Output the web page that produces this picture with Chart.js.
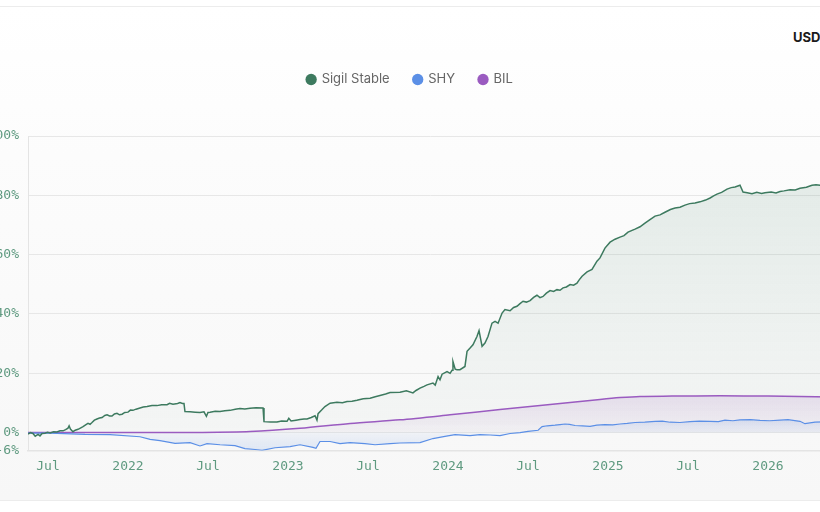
<!doctype html>
<html>
<head>
	<title>Sigil Stable vs SHY vs BIL</title>
	<script src="https://cdn.jsdelivr.net/npm/chart.js@4.4.1/dist/chart.umd.min.js"></script>
	<style>
		html, body {
			margin: 0;
			width: 820px;
			height: 512px;
			overflow: hidden;
			background: #fff;
		}
		body {
			position: relative;
			font-family: Inter, "Noto Sans", sans-serif;
		}
		#card {
			position: absolute;
			left: -20px;
			right: -20px;
			top: 6px;
			height: 493px;
			border-top: 1px solid #ececec;
			border-bottom: 1px solid #ececec;
			background: linear-gradient(#ffffff 0%, #fcfcfc 30%, #f7f7f7 100%);
		}
		#ccy {
			position: absolute;
			left: 793px;
			top: 29px;
			font: 700 13px Inter, sans-serif;
			color: #1b1b1b;
		}
		#canvas {
			position: absolute;
			left: -12px;
			top: 7px;
		}
	</style>
</head>

<body>
	<div id="card"></div>
	<div id="ccy">USD</div>
	<canvas id="canvas" width="844" height="493"></canvas>

	<script>
		// x values are decimal years, y values are cumulative return in %
		var sigilT = [2021.375, 2021.39, 2021.406, 2021.42, 2021.438, 2021.45, 2021.463, 2021.481, 2021.497, 2021.513,
			2021.535, 2021.556, 2021.575, 2021.594, 2021.61, 2021.625, 2021.632, 2021.64, 2021.656, 2021.67,
			2021.688, 2021.705, 2021.719, 2021.735, 2021.75, 2021.763, 2021.775, 2021.79, 2021.806, 2021.822,
			2021.838, 2021.855, 2021.869, 2021.885, 2021.9, 2021.915, 2021.931, 2021.947, 2021.963, 2021.98,
			2022.0, 2022.015, 2022.031, 2022.05, 2022.075, 2022.095, 2022.119, 2022.15, 2022.181, 2022.21,
			2022.244, 2022.26, 2022.281, 2022.31, 2022.325, 2022.34, 2022.35, 2022.356, 2022.388, 2022.42,
			2022.45, 2022.475, 2022.49, 2022.5, 2022.513, 2022.545, 2022.575, 2022.605, 2022.638, 2022.67,
			2022.7, 2022.73, 2022.763, 2022.8, 2022.844, 2022.85, 2022.89, 2022.931, 2022.96, 2022.994,
			2023.005, 2023.019, 2023.05, 2023.075, 2023.1, 2023.119, 2023.145, 2023.169, 2023.181, 2023.188,
			2023.21, 2023.231, 2023.263, 2023.306, 2023.34, 2023.369, 2023.4, 2023.431, 2023.47, 2023.513,
			2023.545, 2023.575, 2023.61, 2023.638, 2023.7, 2023.74, 2023.781, 2023.8, 2023.825, 2023.85,
			2023.869, 2023.906, 2023.92, 2023.938, 2023.95, 2023.963, 2023.994, 2024.013, 2024.025, 2024.031,
			2024.045, 2024.056, 2024.075, 2024.106, 2024.119, 2024.138, 2024.156, 2024.181, 2024.194, 2024.213,
			2024.231, 2024.25, 2024.275, 2024.294, 2024.313, 2024.338, 2024.356, 2024.388, 2024.41, 2024.431,
			2024.45, 2024.469, 2024.49, 2024.513, 2024.535, 2024.556, 2024.575, 2024.594, 2024.615, 2024.638,
			2024.66, 2024.681, 2024.7, 2024.719, 2024.74, 2024.763, 2024.785, 2024.806, 2024.82, 2024.838,
			2024.869, 2024.9, 2024.931, 2024.95, 2024.981, 2025.013, 2025.044, 2025.075, 2025.1, 2025.125,
			2025.169, 2025.2, 2025.231, 2025.26, 2025.294, 2025.325, 2025.356, 2025.39, 2025.419, 2025.45,
			2025.481, 2025.51, 2025.544, 2025.575, 2025.61, 2025.638, 2025.66, 2025.681, 2025.71, 2025.744,
			2025.77, 2025.794, 2025.825, 2025.844, 2025.87, 2025.9, 2025.93, 2025.96, 2025.981, 2026.02,
			2026.05, 2026.075, 2026.1, 2026.138, 2026.17, 2026.2, 2026.24, 2026.275, 2026.3, 2026.325,
			2026.36, 2026.4];
		var sigilV = [-0.5, 0.0, -0.3, -1.2, -0.6, -1.1, -0.3, -0.2, 0.1, -0.1,
			0.3, 0.2, 0.6, 0.6, 1.0, 1.5, 2.3, 1.2, 0.3, 0.8,
			1.1, 1.6, 2.0, 2.6, 3.1, 2.8, 3.4, 4.2, 4.6, 4.9,
			5.1, 5.8, 6.0, 5.6, 5.6, 6.3, 6.5, 6.0, 6.2, 6.8,
			6.9, 7.6, 7.5, 7.9, 8.3, 8.6, 8.8, 9.1, 9.1, 9.4,
			9.4, 9.9, 9.6, 9.8, 10.1, 9.8, 9.8, 7.1, 7.0, 6.9,
			6.8, 7.0, 5.5, 6.8, 6.9, 7.2, 7.1, 7.4, 7.5, 7.9,
			8.1, 8.0, 8.2, 8.4, 8.3, 3.7, 3.6, 3.6, 3.9, 3.8,
			4.8, 3.9, 4.2, 4.4, 4.6, 4.6, 5.1, 5.7, 4.2, 6.4,
			7.6, 8.8, 9.9, 10.2, 10.1, 10.5, 10.6, 10.9, 11.4, 11.6,
			12.1, 12.5, 13.0, 13.5, 13.6, 14.1, 13.4, 14.2, 15.0, 15.6,
			16.1, 16.7, 16.0, 18.9, 17.8, 19.7, 20.6, 20.0, 21.0, 24.0,
			21.4, 21.2, 21.2, 22.3, 27.4, 28.5, 29.6, 32.4, 34.4, 29.1,
			30.2, 32.4, 36.9, 37.5, 36.9, 40.3, 41.5, 41.1, 42.2, 42.6,
			43.5, 44.3, 44.0, 44.5, 45.6, 46.3, 45.5, 45.9, 47.0, 47.9,
			47.6, 48.2, 48.0, 48.8, 49.1, 49.9, 49.7, 50.4, 51.5, 52.7,
			54.2, 55.0, 57.8, 58.9, 62.2, 64.2, 65.2, 65.9, 66.4, 67.6,
			68.6, 69.4, 70.6, 71.7, 73.0, 73.4, 74.3, 75.2, 75.7, 76.0,
			76.7, 77.2, 77.4, 77.8, 78.4, 79.1, 79.8, 80.4, 81.0, 82.1,
			82.6, 82.8, 83.4, 81.1, 80.9, 80.5, 81.0, 80.6, 80.9, 81.1,
			80.8, 81.3, 81.5, 81.9, 81.8, 82.4, 82.7, 83.4, 83.6, 83.4,
			83.2, 83.7];

		var shyT = [2021.375, 2021.513, 2021.731, 2021.888, 2022.075, 2022.138, 2022.2, 2022.294, 2022.388, 2022.45,
			2022.494, 2022.575, 2022.669, 2022.731, 2022.794, 2022.838, 2022.919, 2023.013, 2023.075, 2023.156,
			2023.175, 2023.2, 2023.263, 2023.325, 2023.388, 2023.481, 2023.544, 2023.638, 2023.7, 2023.825,
			2023.906, 2023.981, 2024.044, 2024.138, 2024.2, 2024.263, 2024.325, 2024.388, 2024.45, 2024.5,
			2024.563, 2024.588, 2024.62, 2024.669, 2024.7, 2024.731, 2024.76, 2024.794, 2024.84, 2024.888,
			2024.93, 2024.981, 2025.03, 2025.075, 2025.12, 2025.169, 2025.23, 2025.294, 2025.34, 2025.388,
			2025.45, 2025.513, 2025.57, 2025.638, 2025.69, 2025.731, 2025.78, 2025.825, 2025.89, 2025.95,
			2026.01, 2026.075, 2026.125, 2026.2, 2026.231, 2026.294, 2026.4];
		var shyV = [-0.2, -0.2, -0.6, -0.7, -1.4, -2.3, -2.7, -3.6, -3.4, -4.5,
			-3.7, -4.1, -4.4, -5.4, -5.7, -6.0, -5.1, -4.7, -4.1, -5.0,
			-5.3, -3.0, -3.0, -3.7, -3.4, -3.7, -4.1, -3.7, -3.5, -3.4,
			-2.0, -1.3, -0.7, -1.0, -0.7, -0.8, -1.0, -0.3, 0.0, 0.4,
			0.8, 2.0, 2.3, 2.5, 2.7, 2.9, 2.8, 2.4, 2.3, 2.1,
			2.5, 2.7, 2.6, 2.9, 3.1, 3.4, 3.5, 3.8, 3.9, 3.5,
			3.4, 3.7, 3.9, 3.8, 3.7, 4.2, 4.0, 4.3, 4.4, 4.1,
			4.0, 4.2, 4.4, 3.8, 3.0, 3.5, 3.7];

		var bilT = [2021.375, 2022.0, 2022.45, 2022.763, 2023.075, 2023.388, 2023.7, 2024.013, 2024.325, 2024.638,
			2024.825, 2024.95, 2025.075, 2025.2, 2025.4, 2025.7, 2026.0, 2026.2, 2026.4];
		var bilV = [0.0, 0.0, 0.05, 0.35, 1.45, 3.1, 4.3, 6.0, 7.8, 9.5,
			10.5, 11.2, 11.8, 12.2, 12.3, 12.4, 12.3, 12.2, 12.0];

		var xTicks = [2021.5, 2022, 2022.5, 2023, 2023.5, 2024, 2024.5, 2025, 2025.5, 2026];
		var yTicks = [-6, 0, 20, 40, 60, 80, 100];

		var tickColor = '#5f9a80';
		var tickFont = {family: '"DejaVu Sans Mono", monospace', size: 13};

		function pts(t, v) {
			return t.map(function (x, i) { return {x: x, y: v[i]}; });
		}

		// vertical gradient under a line, stops given as [value, colour]
		function fillGrad(stops) {
			return function (context) {
				var chart = context.chart;
				var area = chart.chartArea;
				if (!area || !chart.scales.y) return 'transparent';
				var g = chart.ctx.createLinearGradient(0, area.top, 0, area.bottom);
				stops.forEach(function (s) {
					var pos = (chart.scales.y.getPixelForValue(s[0]) - area.top) / (area.bottom - area.top);
					g.addColorStop(Math.min(1, Math.max(0, pos)), s[1]);
				});
				return g;
			};
		}

		// push the plot down below the legend
		var legendGap = {
			id: 'legendGap',
			beforeInit: function (chart) {
				var fit = chart.legend.fit;
				chart.legend.fit = function () {
					fit.call(this);
					this.height += 40;
				};
			}
		};

		var ctx = document.getElementById('canvas').getContext('2d');
		window.myChart = new Chart(ctx, {
			type: 'line',
			data: {
				datasets: [{
					label: 'Sigil Stable',
					data: pts(sigilT, sigilV),
					borderColor: '#3d7a5f',
					borderWidth: 1.5,
					backgroundColor: fillGrad([[100, 'rgba(61,122,95,0.14)'], [0, 'rgba(61,122,95,0.02)']]),
					fill: 'origin',
					pointRadius: 0,
					tension: 0
				}, {
					label: 'SHY',
					data: pts(shyT, shyV),
					borderColor: '#5b8fe6',
					borderWidth: 1.2,
					backgroundColor: fillGrad([[5, 'rgba(90,140,225,0.16)'], [0, 'rgba(90,140,225,0.05)'], [-6, 'rgba(90,140,225,0.16)']]),
					fill: 'origin',
					pointRadius: 0,
					tension: 0
				}, {
					label: 'BIL',
					data: pts(bilT, bilV),
					borderColor: '#9a5bc0',
					borderWidth: 1.5,
					backgroundColor: fillGrad([[13, 'rgba(150,90,185,0.16)'], [0, 'rgba(150,90,185,0.03)']]),
					fill: 'origin',
					pointRadius: 0,
					tension: 0.3
				}]
			},
			options: {
				responsive: false,
				animation: false,
				layout: {
					padding: {top: 42, bottom: 18, left: 0, right: 0}
				},
				plugins: {
					filler: {drawTime: 'beforeDatasetsDraw'},
					tooltip: {enabled: false},
					legend: {
						position: 'top',
						labels: {
							usePointStyle: true,
							pointStyle: 'circle',
							boxWidth: 8,
							boxHeight: 8,
							padding: 24,
							color: '#666',
							font: {family: 'Inter, sans-serif', size: 13},
							generateLabels: function (chart) {
								var items = Chart.defaults.plugins.legend.labels.generateLabels(chart);
								items.forEach(function (it) {
									var c = chart.data.datasets[it.datasetIndex].borderColor;
									it.fillStyle = c;
									it.strokeStyle = c;
									it.lineWidth = 0;
								});
								return items;
							}
						}
					}
				},
				scales: {
					x: {
						type: 'linear',
						min: sigilT[0],
						max: sigilT[sigilT.length - 1],
						afterBuildTicks: function (scale) {
							scale.ticks = xTicks.map(function (v) { return {value: v}; });
						},
						ticks: {
							color: tickColor,
							font: tickFont,
							padding: 8,
							maxRotation: 0,
							autoSkip: false,
							callback: function (v) {
								return Number.isInteger(v) ? String(v) : 'Jul';
							}
						},
						grid: {display: false, drawTicks: false},
						border: {display: true, color: '#e4e4e4', width: 1.5}
					},
					y: {
						min: -6,
						max: 100,
						afterBuildTicks: function (scale) {
							scale.ticks = yTicks.map(function (v) { return {value: v}; });
						},
						afterFit: function (scale) {
							scale.width = 40;
						},
						ticks: {
							color: tickColor,
							font: tickFont,
							padding: 9,
							callback: function (v) { return v + '%'; }
						},
						grid: {color: '#e7e7e7', drawTicks: false},
						border: {display: true, color: '#e4e4e4'}
					}
				}
			},
			plugins: [legendGap]
		});
	</script>
</body>

</html>
